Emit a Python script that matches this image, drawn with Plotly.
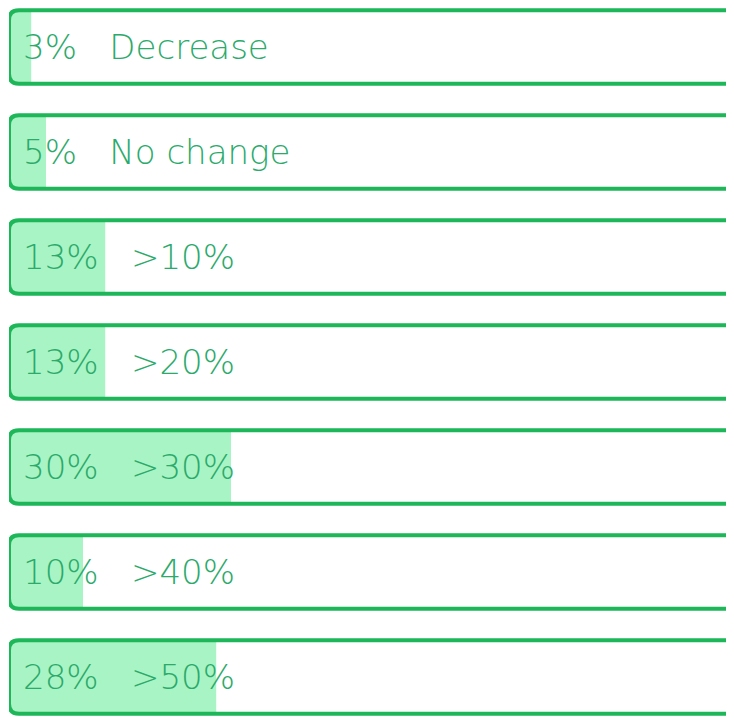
import plotly.graph_objects as go

# ---- data ----
categories = ["Decrease", "No change", ">10%", ">20%", ">30%", ">40%", ">50%"]
percentages = [3, 5, 13, 13, 30, 10, 28]
track_total = [100, 100, 100, 100, 100, 100, 100]

# ---- style ----
BORDER = "#1DB75A"
FILL = "#A9F4C4"
TEXT = "#2BAA6B"
FONT = "DejaVu Sans"
BAR_W = 0.7
GAP = "\u00a0" * 3
PX_PER_X = 7.4      # pixels per x unit (layout)
PX_PER_Y = 105      # pixels per y unit (layout)
R_PX = 10
RX = R_PX / PX_PER_X
RY = R_PX / PX_PER_Y

rows = list(range(len(categories)))

fig = go.Figure()

# light-green fill
fig.add_trace(go.Bar(
    y=rows, x=percentages, orientation="h", width=BAR_W,
    marker=dict(color=FILL, line=dict(width=0)),
    hoverinfo="skip", showlegend=False,
))

shapes = []
for i, t in zip(rows, track_total):
    y0, y1 = i - BAR_W / 2, i + BAR_W / 2
    # white masks outside the rounded left corners
    shapes.append(dict(
        type="path", xref="x", yref="y", layer="above",
        path=f"M {-RX} {y0} L {RX} {y0} Q 0 {y0} 0 {y0 + RY} L 0 {y0 - RY} Z",
        fillcolor="white", line=dict(width=0),
    ))
    shapes.append(dict(
        type="path", xref="x", yref="y", layer="above",
        path=f"M {-RX} {y1} L {RX} {y1} Q 0 {y1} 0 {y1 - RY} L 0 {y1 + RY} Z",
        fillcolor="white", line=dict(width=0),
    ))
    # outlined track with rounded left corners
    shapes.append(dict(
        type="path", xref="x", yref="y", layer="above",
        path=(f"M {t} {y0} L {RX} {y0} Q 0 {y0} 0 {y0 + RY} "
              f"L 0 {y1 - RY} Q 0 {y1} {RX} {y1} L {t} {y1}"),
        fillcolor="rgba(0,0,0,0)", line=dict(color=BORDER, width=4),
    ))

for i, cat, p in zip(rows, categories, percentages):
    fig.add_annotation(
        x=0, y=i, xref="x", yref="y",
        text=f"{p}%{GAP}{cat}",
        showarrow=False, xanchor="left", yanchor="middle",
        xshift=12,
        font=dict(family=FONT, size=34, color=TEXT, weight=200),
    )

fig.update_layout(
    width=726, height=710,
    margin=dict(l=1, r=0, t=0, b=0),
    shapes=shapes,
    paper_bgcolor="white",
    plot_bgcolor="white",
    showlegend=False,
    xaxis=dict(range=[0, 725 / PX_PER_X], visible=False, fixedrange=True),
    yaxis=dict(range=[6.390, -0.3714], visible=False, fixedrange=True),
)

fig.write_html("out.html")
